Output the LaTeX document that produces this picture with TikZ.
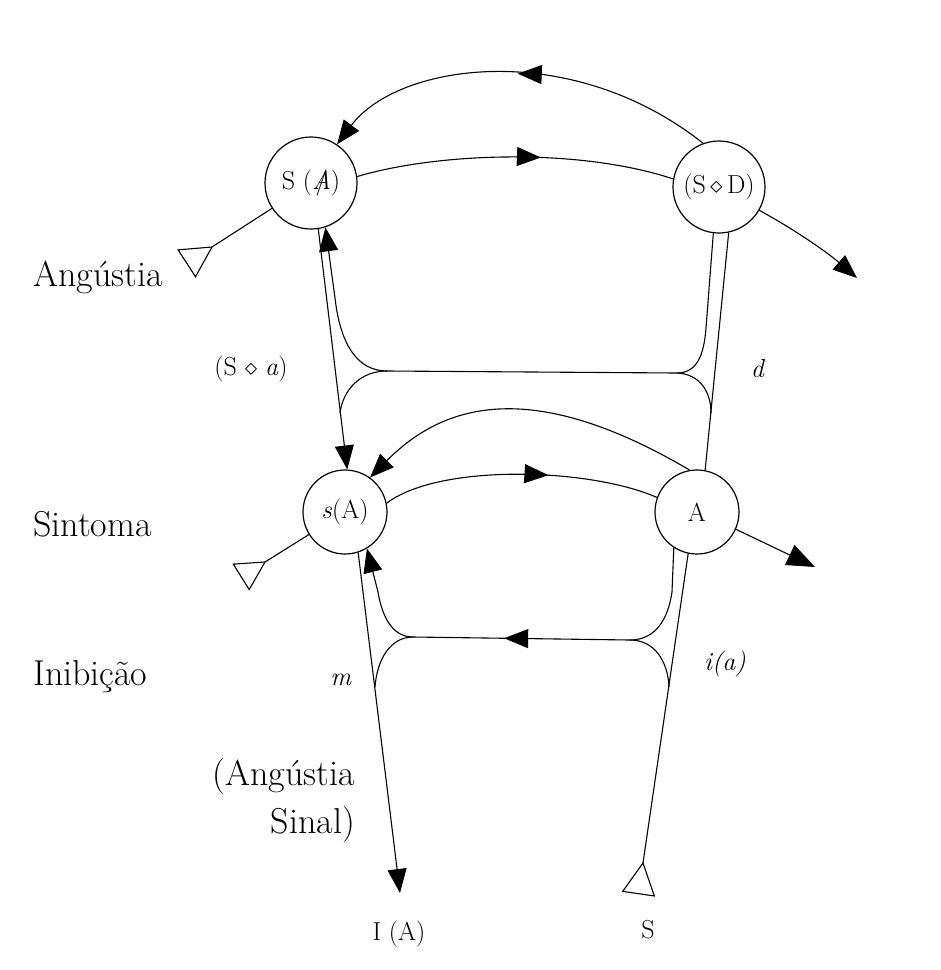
\documentclass[tikz,border=0pt]{standalone}
\usetikzlibrary{arrows.meta,decorations.markings,calc}
\begin{document}
\begin{tikzpicture}[x=1pt,y=-1pt,
  ln/.style={line width=1.1pt, line join=round},
  vtx/.style={circle, draw, line width=1.2pt, inner sep=0pt, fill=white, font=\fontsize{26}{30}\selectfont},
  bigv/.style={vtx, minimum size=92pt},
  smallv/.style={vtx, minimum size=84pt},
  tip/.style={-{Triangle[length=24pt,width=19pt]}},
  midarrow/.style={postaction={decorate}, decoration={markings, mark=at position #1 with {\arrow{Triangle[length=24pt,width=19pt]}}}},
  side/.style={font=\fontsize{36}{48}\selectfont, inner sep=0pt},
  lbl/.style={font=\fontsize{26}{30}\selectfont, inner sep=0pt},
  opentri/.style={line width=1.1pt, line join=miter, fill=white}
]
\fill[white] (0,0) rectangle (941,970);
\useasboundingbox (0,0) rectangle (941,970);

% vertices
\node[bigv] (SA) at (311,183) {S (\ooalign{\itshape A\cr\hidewidth/\hidewidth\cr})};
\node[bigv] (SD) at (719,187) {(S\,$\diamond$\,D)};
\node[smallv] (sA) at (345,512) {\textit{s}(A)};
\node[smallv] (A) at (697,512) {A};

% junctions and free ends
\coordinate (J1) at (387,371);
\coordinate (J2) at (677,373);
\coordinate (J3) at (413,637);
\coordinate (J4) at (630,640);
\coordinate (IAend) at (400,893);
\coordinate (SDout) at (857,278);
\coordinate (Aout) at (815,567);
\coordinate (Tang) at (212,247);
\coordinate (Tsint) at (265,562);
\coordinate (Ts) at (643,863);

% upper level
\draw[ln,tip,midarrow=0.5] (SD.110) .. controls (570,38) and (398,63) .. (SA.56);
\draw[ln,midarrow=0.58] (SA.8) .. controls (440,152) and (580,148) .. (SD.170);
\draw[ln,tip] (SD.330) .. controls (797,231) and (828,253) .. (SDout);

% verticals between levels
\draw[ln,tip] (SA.279) -- (sA.87);
\draw[ln] (J1) -- (J2);
\draw[ln,tip] (J1) .. controls (356,371) and (340,342) .. (335,298) -- (SA.288);
\draw[ln] (J1) .. controls (360,371) and (343,390) .. (340,413);
\draw[ln] (J2) .. controls (697,373) and (704,355) .. (706,328) -- (SD.263);
\draw[ln] (J2) .. controls (700,374) and (711,392) .. (711,413);
\draw[ln] (SD.282) -- (A.79);

% lower level
\draw[ln,tip] (A.100) .. controls (535,379) and (446,401) .. (sA.54);
\draw[ln,midarrow=0.6] (sA.12) .. controls (440,463) and (590,468) .. (A.160);
\draw[ln,-{Triangle[length=28pt,width=22pt]}] (A.336) -- (Aout);

% bottom part
\draw[ln,tip] (sA.288) -- (IAend);
\draw[ln,midarrow=0.58] (J4) -- (J3);
\draw[ln,tip] (J3) .. controls (392,637) and (382,616) .. (378,592) -- (sA.301);
\draw[ln] (J3) .. controls (390,637) and (377,660) .. (375,687);
\draw[ln] (J4) .. controls (655,640) and (668,620) .. (672,592) -- (A.237);
\draw[ln] (J4) .. controls (655,640) and (668,662) .. (669,687);
\draw[ln] (Ts) -- (A.258);

% open triangles (starting points)
\draw[ln] (SA.213) -- (Tang);
\coordinate (TangB) at ($(Tang)!30pt!180:(SA)$);
\draw[opentri] (Tang) -- ($(TangB)!16pt!90:(Tang)$) -- ($(TangB)!16pt!-90:(Tang)$) -- cycle;
\draw[ln] (sA.212) -- (Tsint);
\coordinate (TsintB) at ($(Tsint)!28pt!180:(sA)$);
\draw[opentri] (Tsint) -- ($(TsintB)!15pt!90:(Tsint)$) -- ($(TsintB)!15pt!-90:(Tsint)$) -- cycle;
\coordinate (TsB) at ($(Ts)!31pt!180:(A.258)$);
\draw[opentri] (Ts) -- ($(TsB)!16pt!90:(Ts)$) -- ($(TsB)!16pt!-90:(Ts)$) -- cycle;

% labels
\node[side, anchor=base west] (ang) at (33,286) {Angústia};
\node[side, anchor=base west] (sint) at (33,536) {Sintoma};
\node[side, anchor=base west] (inib) at (33,685) {Inibição};
\node[side, anchor=north east, align=right] (sinal) at (355,758) {(Angústia\\Sinal)};
\node[lbl] (Sa) at (251,369) {(S~$\diamond$~\textit{a})};
\node[lbl, anchor=base] (dl) at (758,377) {\textit{d}};
\node[lbl, anchor=base] (ml) at (341,685) {\textit{m}};
\node[lbl] (ia) at (725,664) {\textit{i(a)}};
\node[lbl, anchor=base] (IA) at (399,940) {I (A)};
\node[lbl, anchor=base] (Sl) at (648,938) {S};
\end{tikzpicture}
\end{document}
